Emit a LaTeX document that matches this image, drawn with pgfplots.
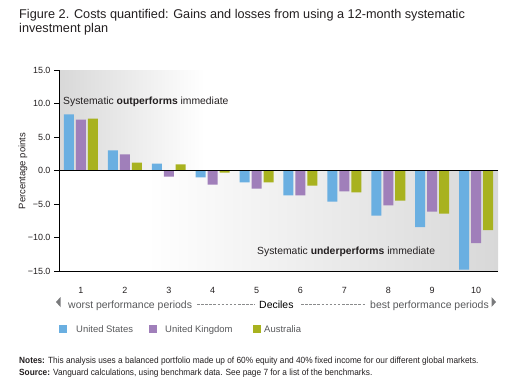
\documentclass[border=0pt]{standalone}
\usepackage{fontspec}
\setmainfont{Liberation Sans}
\newfontfamily\narrowfont[FakeStretch=0.925]{Liberation Sans}
\usepackage{pgfplots}
\pgfplotsset{compat=1.18}
\usepackage{pgfplotstable}
\definecolor{cUS}{HTML}{6AAFE1}
\definecolor{cUK}{HTML}{A07FBA}
\definecolor{cAU}{HTML}{A8B21F}
\definecolor{bgg}{HTML}{D8D8D8}
\definecolor{txt}{HTML}{231F20}
\definecolor{gtxt}{HTML}{58595B}

\pgfplotstableread{
dec us uk au
1 8.36 7.60 7.76
2 2.99 2.39 1.19
3 1.04 -0.90 0.90
4 -1.04 -2.09 -0.30
5 -1.79 -2.69 -1.79
6 -3.73 -3.73 -2.24
7 -4.63 -3.13 -3.28
8 -6.72 -5.22 -4.48
9 -8.46 -6.12 -6.42
10 -14.78 -10.85 -8.91
}\datatable

\begin{document}
\begin{tikzpicture}[x=1bp,y=1bp]
\useasboundingbox (0,0) rectangle (509,383);
% title
\node[anchor=base west, inner sep=0pt, font=\fontsize{12.75}{14}\selectfont, text=txt] at (19,383-18.3) {Figure 2. Costs quantified: Gains and losses from using a 12-month systematic};
\node[anchor=base west, inner sep=0pt, font=\fontsize{12.75}{14}\selectfont, text=txt] at (19,383-32.7) {investment plan};

\begin{axis}[
  at={(59bp,112bp)}, anchor=south west,
  scale only axis, width=439bp, height=201bp,
  xmin=0.5, xmax=10.5, ymin=-15, ymax=15,
  axis lines*=left,
  axis on top,
  axis line style={black, line width=0.8bp},
  ybar, bar width=0.228,
  xtick={1,2,3,4,5,6,7,8,9,10},
  xticklabels={1,2,3,4,5,6,7,8,9,10},
  xtick style={draw=none},
  xticklabel style={font=\fontsize{9}{10}\selectfont, text=txt, yshift=-8bp},
  ytick={-15,-10,-5,0,5,10,15},
  yticklabels={−15.0,−10.0,−5.0,0.0,5.0,10.0,15.0},
  yticklabel style={font=\fontsize{9}{10}\selectfont, text=txt},
  tick align=outside, major tick length=5bp,
  ytick style={black, line width=0.6bp},
  clip=false,
]
\shade[left color=bgg, right color=white] (axis cs:0.5,0) rectangle (axis cs:3.8,15);
\fill[white] (axis cs:0.5,-15) rectangle (axis cs:2.5,0);
\shade[left color=white, right color=bgg] (axis cs:2.5,-15) rectangle (axis cs:10.5,0);
\addplot[fill=cUS, draw=none, bar shift=-0.273] table[x=dec, y=us] {\datatable};
\addplot[fill=cUK, draw=none, bar shift=0] table[x=dec, y=uk] {\datatable};
\addplot[fill=cAU, draw=none, bar shift=0.273] table[x=dec, y=au] {\datatable};
\draw[black, line width=1.2bp] (axis cs:0.5,0) -- (axis cs:10.5,0);
\end{axis}

% y label
\node[rotate=90, inner sep=0pt, font=\fontsize{9.5}{11}\selectfont, text=txt] at (23,383-171) {Percentage points};

% annotations
\node[anchor=base west, inner sep=0pt, font=\fontsize{10.4}{12}\selectfont, text=txt] at (63,383-104) {Systematic \textbf{outperforms} immediate};
\node[anchor=base west, inner sep=0pt, font=\fontsize{10.4}{12}\selectfont, text=txt] at (257,383-254) {Systematic \textbf{underperforms} immediate};

% deciles row
\fill[gtxt!80] (56,383-302) -- (60.5,383-297) -- (60.5,383-307) -- cycle;
\fill[gtxt!80] (496,383-302) -- (491.5,383-297) -- (491.5,383-307) -- cycle;
\node[anchor=base west, inner sep=0pt, font=\fontsize{10.5}{12}\selectfont, text=gtxt] at (68,383-308) {worst performance periods};
\node[anchor=base west, inner sep=0pt, font=\fontsize{10.5}{12}\selectfont, text=black] at (259,383-308) {Deciles};
\node[anchor=base east, inner sep=0pt, font=\fontsize{10.5}{12}\selectfont, text=gtxt] at (489,383-308) {best performance periods};
\draw[gtxt!70, line width=0.5bp, dash pattern=on 2.5bp off 1.6bp] (197,383-304.5) -- (255,383-304.5);
\draw[gtxt!70, line width=0.5bp, dash pattern=on 2.5bp off 1.6bp] (301,383-304.5) -- (366,383-304.5);

% legend
\fill[cUS] (59,383-333) rectangle (67,383-325);
\node[anchor=base west, inner sep=0pt, font=\fontsize{9.5}{11}\selectfont, text=gtxt] at (76,383-332) {United States};
\fill[cUK] (149,383-333) rectangle (157,383-325);
\node[anchor=base west, inner sep=0pt, font=\fontsize{9.5}{11}\selectfont, text=gtxt] at (165,383-332) {United Kingdom};
\fill[cAU] (253,383-333) rectangle (261,383-325);
\node[anchor=base west, inner sep=0pt, font=\fontsize{9.5}{11}\selectfont, text=gtxt] at (264,383-332) {Australia};

% notes
\node[anchor=base west, inner sep=0pt, font=\narrowfont\fontsize{9}{11}\selectfont, text=txt] at (19,383-363) {\textbf{Notes:} This analysis uses a balanced portfolio made up of 60\% equity and 40\% fixed income for our different global markets.};
\node[anchor=base west, inner sep=0pt, font=\narrowfont\fontsize{9}{11}\selectfont, text=txt] at (19,383-375) {\textbf{Source:} Vanguard calculations, using benchmark data. See page 7 for a list of the benchmarks.};
\end{tikzpicture}
\end{document}
